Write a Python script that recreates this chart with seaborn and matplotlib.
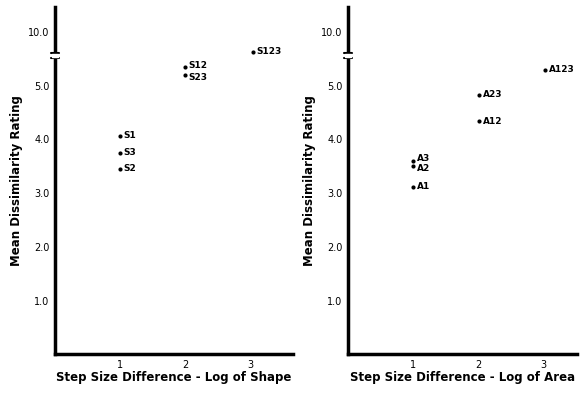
import matplotlib
matplotlib.use("Agg")
import matplotlib.pyplot as plt
import seaborn as sns
import pandas as pd

# ---- data ----
shape_labels = ["S1", "S3", "S2", "S12", "S23", "S123"]
shape_steps = [1, 1, 1, 2, 2, 3.05]
shape_ratings = [4.07, 3.75, 3.45, 5.34, 5.20, 5.63]

area_labels = ["A3", "A2", "A1", "A23", "A12", "A123"]
area_steps = [1, 1, 1, 2.02, 2.02, 3.03]
area_ratings = [3.59, 3.51, 3.12, 4.83, 4.34, 5.30]

ytick_pos = [1, 2, 3, 4, 5, 6]
ytick_labels = ["1.0", "2.0", "3.0", "4.0", "5.0", "10.0"]
xtick_pos = [1, 2, 3]
xtick_labels = ["1", "2", "3"]

ylabel = "Mean Dissimilarity Rating"
xlabel_left = "Step Size Difference - Log of Shape"
xlabel_right = "Step Size Difference - Log of Area"

sns.set_style("white")
plt.rcParams['font.family'] = ['DejaVu Sans']
plt.rcParams['text.color'] = 'black'
plt.rcParams['axes.labelcolor'] = 'black'

# vertical nudges (points) to keep crowded labels apart
label_nudge = {"S12": 1.5, "S23": -1.5, "A3": 2.2, "A2": -2.2}

W, H = 588, 394
fig = plt.figure(figsize=(W / 100, H / 100), dpi=100)

def make_ax(x0, x1, y_top, y_bot, xmax):
    ax = fig.add_axes([x0 / W, (H - y_bot) / H, (x1 - x0) / W, (y_bot - y_top) / H])
    ax.set_xlim(0, xmax)
    ax.set_ylim(0, 6.47)
    return ax

ax1 = make_ax(55, 293, 6.7, 354.3, 3.66)
ax2 = make_ax(348, 577, 6.7, 354.3, 3.52)

panels = [
    (ax1, shape_steps, shape_ratings, shape_labels, xlabel_left),
    (ax2, area_steps, area_ratings, area_labels, xlabel_right),
]

for ax, xs, ys, labs, xl in panels:
    df = pd.DataFrame({"step": xs, "rating": ys, "label": labs})
    sns.scatterplot(data=df, x="step", y="rating", ax=ax, color="black",
                    s=9, edgecolor="black", linewidth=0, legend=False)
    for _, r in df.iterrows():
        ax.annotate(r["label"], (r["step"], r["rating"]),
                    xytext=(2.5, label_nudge.get(r["label"], 0)),
                    textcoords="offset points", va="center", ha="left",
                    fontsize=6.5, fontweight="bold", color="black")
    for side in ["top", "right"]:
        ax.spines[side].set_visible(False)
    for side in ["left", "bottom"]:
        ax.spines[side].set_linewidth(2.5)
        ax.spines[side].set_color("black")
    ax.set_yticks(ytick_pos)
    ax.set_yticklabels(ytick_labels)
    ax.set_xticks(xtick_pos)
    ax.set_xticklabels(xtick_labels)
    ax.tick_params(axis="both", direction="out", length=2, width=1,
                   labelsize=7, pad=2, colors="black")
    ax.set_xlabel(xl, fontsize=8.5, fontweight="bold", labelpad=1)
    ax.set_ylabel(ylabel, fontsize=8.5, fontweight="bold", labelpad=4)
    # axis break marks
    for yb in (5.51, 5.61):
        ax.plot([-0.06, 0.06], [yb, yb], color="black", lw=1.5,
                clip_on=False, zorder=5)
    ax.fill_between([-0.05, 0.05], 5.53, 5.59, color="white", clip_on=False, zorder=6)

fig.savefig("out.png", dpi=100)
